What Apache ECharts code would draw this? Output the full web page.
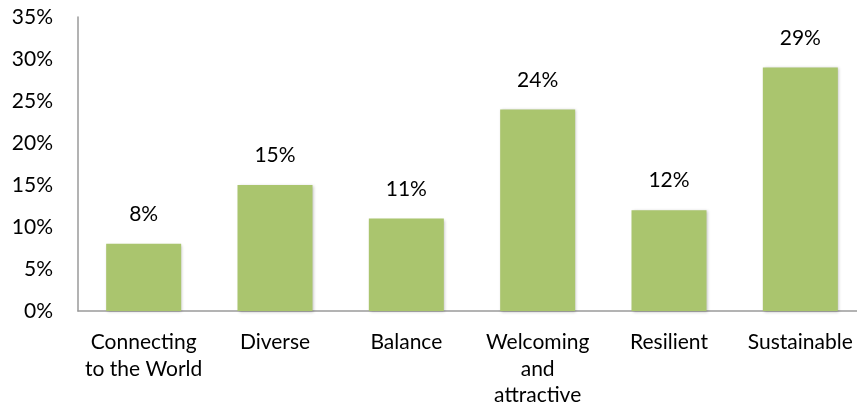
<!DOCTYPE html>
<html>
<head>
<meta charset="utf-8">
<script src="https://cdn.jsdelivr.net/npm/echarts@6/dist/echarts.min.js"></script>
<style>
  html, body { margin: 0; padding: 0; background: #ffffff; }
  #chart { width: 857px; height: 410px; }
</style>
</head>
<body>
<div id="chart"></div>
<script>
// Share of responses per theme (percent)
const categories = ['Connecting\nto the World', 'Diverse', 'Balance', 'Welcoming\nand\nattractive', 'Resilient', 'Sustainable'];
const values = [8, 15, 11, 24, 12, 29];
const yTicks = [0, 5, 10, 15, 20, 25, 30, 35];

const font = 'Lato, "Open Sans", sans-serif';
const chart = echarts.init(document.getElementById('chart'));

chart.setOption({
  animation: false,
  // plot area runs a little past the right edge of the canvas
  grid: {
    left: 78, width: 788, top: 17, height: 294,
    containLabel: false, outerBoundsMode: 'none'
  },
  xAxis: {
    type: 'category',
    data: categories,
    axisLine: { lineStyle: { color: '#9a9a9a', width: 1.5 } },
    axisTick: { show: false },
    axisLabel: {
      color: '#000', fontFamily: font, fontSize: 21, lineHeight: 26.5,
      margin: 18, interval: 0
    }
  },
  yAxis: {
    type: 'value',
    min: yTicks[0],
    max: yTicks[yTicks.length - 1],
    interval: 5,
    splitLine: { show: false },
    axisLine: { show: true, lineStyle: { color: '#9a9a9a', width: 1.5 } },
    axisTick: { show: false },
    axisLabel: {
      color: '#000', fontFamily: font, fontSize: 21, margin: 25,
      padding: [3, 0, 0, 0],
      formatter: v => v + '%'
    }
  },
  series: [{
    type: 'bar',
    data: values,
    barWidth: 75,
    itemStyle: {
      color: '#aac56e',
      shadowColor: 'rgba(0,0,0,0.25)', shadowBlur: 3, shadowOffsetX: 1, shadowOffsetY: 1
    },
    label: {
      show: true, position: 'top', distance: 19,
      color: '#000', fontFamily: font, fontSize: 21,
      formatter: p => p.value + '%'
    }
  }]
});
</script>
</body>
</html>
